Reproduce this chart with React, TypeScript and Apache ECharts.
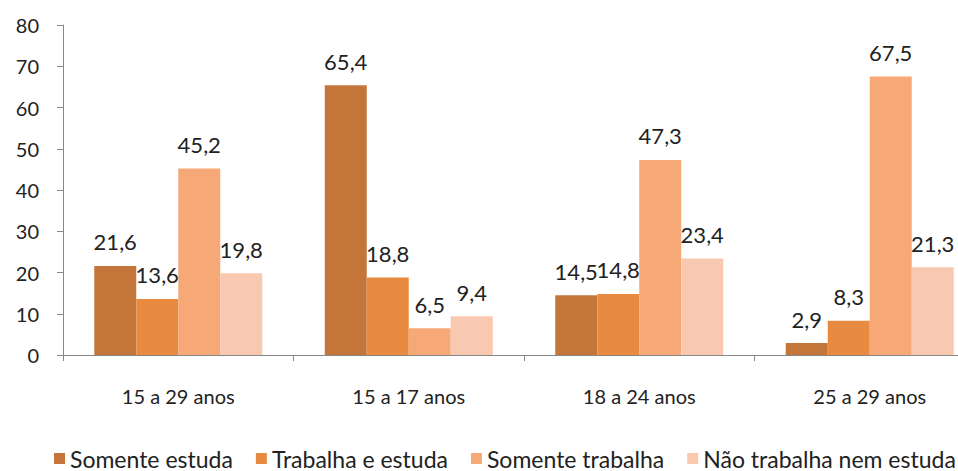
import React, { useEffect, useRef } from "react";
import * as echarts from "echarts";

const categories = ["15 a 29 anos", "15 a 17 anos", "18 a 24 anos", "25 a 29 anos"];
const seriesNames = ["Somente estuda", "Trabalha e estuda", "Somente trabalha", "Não trabalha nem estuda"];
const somenteEstuda = [21.6, 65.4, 14.5, 2.9];
const trabalhaEEstuda = [13.6, 18.8, 14.8, 8.3];
const somenteTrabalha = [45.2, 6.5, 47.3, 67.5];
const naoTrabalhaNemEstuda = [19.8, 9.4, 23.4, 21.3];
const colors = ["#C4763A", "#E88B40", "#F6A877", "#F8C8B0"];

const FONT = "Lato, 'Noto Sans', sans-serif";

export default function App() {
  const ref = useRef<HTMLDivElement>(null);
  useEffect(() => {
    if (!ref.current) return;
    const chart = echarts.init(ref.current, undefined, { renderer: "svg" });
    const all = [somenteEstuda, trabalhaEEstuda, somenteTrabalha, naoTrabalhaNemEstuda];
    chart.setOption({
      animation: false,
      textStyle: { fontFamily: FONT },
      grid: { left: 63, right: 5, top: 25, bottom: 116 },
      legend: {
        top: 447,
        left: 54,
        padding: 0,
        itemWidth: 11,
        itemHeight: 11,
        itemGap: 23,
        icon: "rect",
        textStyle: { fontSize: 23, color: "#222", fontFamily: FONT },
        data: seriesNames,
      },
      xAxis: {
        type: "category",
        data: categories,
        axisLine: { lineStyle: { color: "#888" } },
        axisTick: { show: true, length: 6, lineStyle: { color: "#888" } },
        axisLabel: { fontSize: 20, color: "#222", margin: 31, fontFamily: FONT },
      },
      yAxis: {
        type: "value",
        min: 0,
        max: 80,
        interval: 10,
        splitLine: { show: false },
        axisLine: { show: true, lineStyle: { color: "#888" } },
        axisTick: { show: true, length: 6, lineStyle: { color: "#888" } },
        axisLabel: { fontSize: 20, color: "#222", margin: 24, fontFamily: FONT },
      },
      series: all.map((d, i) => ({
        name: seriesNames[i],
        type: "bar",
        data: d,
        barWidth: 42,
        barGap: "0%",
        itemStyle: { color: colors[i] },
        label: {
          show: true,
          position: "top",
          distance: 13,
          fontSize: 22,
          color: "#222",
          fontFamily: FONT,
          formatter: (p: any) => String(p.value).replace(".", ","),
        },
      })),
    });
    return () => chart.dispose();
  }, []);
  return (
    <div style={{ width: 958, height: 471, position: "absolute", left: 0, top: 0, overflow: "hidden" }}>
      <div ref={ref} style={{ width: 990, height: 471 }} />
    </div>
  );
}
